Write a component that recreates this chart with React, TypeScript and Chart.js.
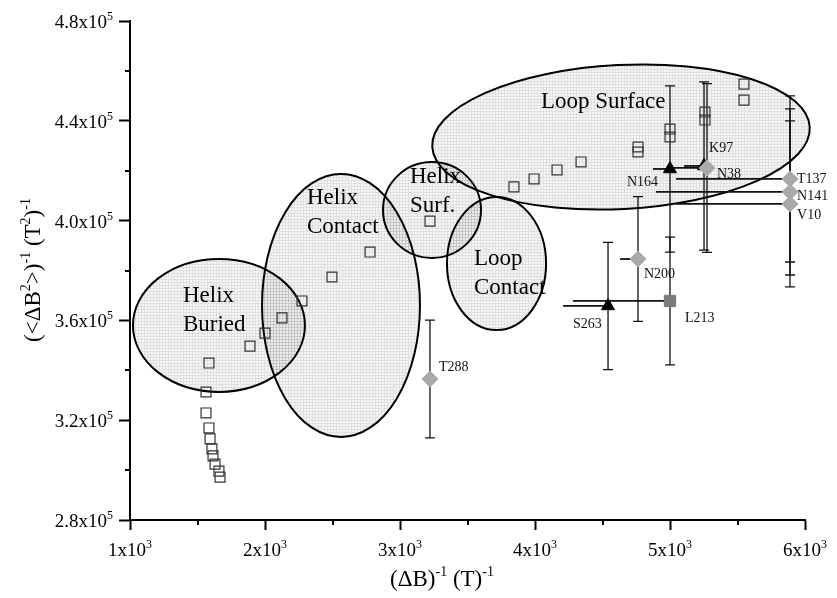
import React, { useEffect, useRef } from "react";
import { Chart, registerables } from "chart.js";

Chart.register(...registerables);

// ---------------- data ----------------
// open squares (all residues)
const squareX = [5548, 5548, 5259, 5259, 5000, 5000, 4763, 4763, 4341, 4163, 3993, 3844, 3222, 2778, 2496, 2274, 2126, 2000, 1889, 1585, 1563, 1563, 1585, 1593, 1607, 1615, 1630, 1659, 1667];
const squareY = [454700, 448300, 443500, 440300, 436700, 433500, 429500, 427500, 423500, 420300, 416700, 413500, 399800, 387400, 377400, 367800, 361000, 354900, 349700, 342900, 331300, 322900, 316900, 312500, 308500, 305700, 302400, 299600, 297200];

// gray diamonds
const diamondLabels = ["T288", "N200", "N38", "T137", "N141", "V10"];
const diamondX = [3222, 4763, 5274, 5889, 5889, 5889];
const diamondY = [336500, 384600, 421100, 416700, 411500, 406700];
const diamondYErr = [23600, 25000, 33800, 33300, 33300, 33300];
const diamondXErrLeft = [0, 133, 274, 844, 993, 844];

// black triangles
const triangleLabels = ["S263", "N164", "K97"];
const triangleX = [4541, 5000, 5252];
const triangleY = [365800, 420700, 421900];
const triangleYErr = [25500, 33300, 33700];
const triangleXErrLeft = [333, 126, 148];

// dark gray filled square
const filledLabels = ["L213"];
const filledX = [5000];
const filledY = [367800];
const filledYErr = [25600];
const filledXErrLeft = [719];

// regions (ellipses)
const regionNames = [["Helix", "Buried"], ["Helix", "Contact"], ["Helix", "Surf."], ["Loop", "Contact"], ["Loop Surface"]];
const regionCX = [1659, 2563, 3237, 3715, 4637];
const regionCY = [358000, 366000, 404250, 382800, 433500];
const regionRX = [637, 585, 363, 367, 1400];
const regionRY = [26650, 52700, 19200, 26650, 28860];

// axis ticks
const xTickValues = [1000, 2000, 3000, 4000, 5000, 6000];
const xTickLabels = ["1x10", "2x10", "3x10", "4x10", "5x10", "6x10"];
const xTickExp = "3";
const xMinorValues = [1500, 2500, 3500, 4500, 5500];
const yTickValues = [280000, 320000, 360000, 400000, 440000, 480000];
const yTickLabels = ["2.8x10", "3.2x10", "3.6x10", "4.0x10", "4.4x10", "4.8x10"];
const yTickExp = "5";
const yMinorValues = [300000, 340000, 380000, 420000, 460000];

// ---------------- layout / style ----------------
const FONT = '"Liberation Serif", "Times New Roman", serif';
const regionTiltDeg = [0, 0, 0, 0, -3];
const regionLabelOffset: [number, number][] = [[-36, -29.5], [-34, -107.5], [-22, -33], [-22.5, -4.5], [-80, -35]];
const labelOffsets: Record<string, [number, number]> = {
  T288: [9, -12], N200: [6, 15], N38: [10, 6], T137: [7, 0], N141: [7, 4], V10: [7, 11],
  S263: [-35, 18], N164: [-43, 13], K97: [5, -18], L213: [15, 17],
};

type Part = [string, boolean];

function drawRich(ctx: CanvasRenderingContext2D, parts: Part[], x: number, y: number, align: string, baseSize: number, supSize: number, raise: number) {
  const baseFont = `${baseSize}px ${FONT}`;
  const supFont = `${supSize}px ${FONT}`;
  let total = 0;
  const widths = parts.map(([t, s]) => {
    ctx.font = s ? supFont : baseFont;
    const w = ctx.measureText(t).width;
    total += w;
    return w;
  });
  let cx = align === "left" ? x : align === "center" ? x - total / 2 : x - total;
  ctx.textAlign = "left";
  ctx.textBaseline = "alphabetic";
  parts.forEach(([t, s], i) => {
    ctx.font = s ? supFont : baseFont;
    ctx.fillText(t, cx, s ? y - raise : y);
    cx += widths[i];
  });
}

function makePattern(): CanvasPattern | string {
  const c = document.createElement("canvas");
  c.width = 3;
  c.height = 3;
  const g = c.getContext("2d");
  if (!g) return "rgba(0,0,0,0.08)";
  g.fillStyle = "rgba(0,0,0,0.035)";
  g.fillRect(0, 0, 3, 3);
  g.fillStyle = "rgba(0,0,0,0.09)";
  g.fillRect(0, 0, 3, 1);
  g.fillRect(0, 1, 1, 2);
  const p = g.createPattern(c, "repeat");
  return p || "rgba(0,0,0,0.08)";
}

export default function App() {
  const ref = useRef<HTMLCanvasElement | null>(null);

  useEffect(() => {
    const canvas = ref.current;
    if (!canvas) return;
    const pattern = makePattern();

    const errorGroups = [
      { x: diamondX, y: diamondY, ye: diamondYErr, xe: diamondXErrLeft, labels: diamondLabels },
      { x: triangleX, y: triangleY, ye: triangleYErr, xe: triangleXErrLeft, labels: triangleLabels },
      { x: filledX, y: filledY, ye: filledYErr, xe: filledXErrLeft, labels: filledLabels },
    ];

    const plugin = {
      id: "decor",
      beforeDatasetsDraw(chart: any) {
        const ctx: CanvasRenderingContext2D = chart.ctx;
        const xs = chart.scales.x;
        const ys = chart.scales.y;
        ctx.save();
        const ells = regionCX.map((cx, i) => {
          const px = xs.getPixelForValue(cx);
          const py = ys.getPixelForValue(regionCY[i]);
          const rx = Math.abs(xs.getPixelForValue(cx + regionRX[i]) - px);
          const ry = Math.abs(ys.getPixelForValue(regionCY[i] + regionRY[i]) - py);
          return { px, py, rx, ry, rot: (regionTiltDeg[i] * Math.PI) / 180 };
        });
        ells.forEach((e) => {
          ctx.beginPath();
          ctx.ellipse(e.px, e.py, e.rx, e.ry, e.rot, 0, Math.PI * 2);
          ctx.fillStyle = pattern as any;
          ctx.fill();
        });
        ells.forEach((e) => {
          ctx.beginPath();
          ctx.ellipse(e.px, e.py, e.rx, e.ry, e.rot, 0, Math.PI * 2);
          ctx.strokeStyle = "#000";
          ctx.lineWidth = 2;
          ctx.stroke();
        });
        // region labels
        ctx.fillStyle = "#000";
        ctx.font = `23px ${FONT}`;
        ctx.textAlign = "left";
        ctx.textBaseline = "middle";
        ells.forEach((e, i) => {
          const [dx, dy] = regionLabelOffset[i];
          regionNames[i].forEach((line, j) => {
            ctx.fillText(line, e.px + dx, e.py + dy + j * 29);
          });
        });
        // error bars
        ctx.strokeStyle = "#111";
        errorGroups.forEach((g) => {
          g.x.forEach((xv, i) => {
            const px = xs.getPixelForValue(xv);
            const py = ys.getPixelForValue(g.y[i]);
            const top = ys.getPixelForValue(g.y[i] + g.ye[i]);
            const bot = ys.getPixelForValue(g.y[i] - g.ye[i]);
            ctx.lineWidth = 1.3;
            ctx.beginPath();
            ctx.moveTo(px, top);
            ctx.lineTo(px, bot);
            ctx.moveTo(px - 5, top);
            ctx.lineTo(px + 5, top);
            ctx.moveTo(px - 5, bot);
            ctx.lineTo(px + 5, bot);
            ctx.stroke();
            if (g.xe[i] > 0) {
              const left = xs.getPixelForValue(xv - g.xe[i]);
              ctx.lineWidth = 1.8;
              ctx.beginPath();
              ctx.moveTo(left, py);
              ctx.lineTo(px, py);
              ctx.stroke();
            }
          });
        });
        ctx.restore();
      },
      afterDraw(chart: any) {
        const ctx: CanvasRenderingContext2D = chart.ctx;
        const xs = chart.scales.x;
        const ys = chart.scales.y;
        const area = chart.chartArea;
        ctx.save();
        ctx.strokeStyle = "#000";
        ctx.lineWidth = 2;
        ctx.beginPath();
        xMinorValues.forEach((v) => {
          const px = Math.round(xs.getPixelForValue(v));
          ctx.moveTo(px, area.bottom);
          ctx.lineTo(px, area.bottom + 5);
        });
        yMinorValues.forEach((v) => {
          const py = Math.round(ys.getPixelForValue(v));
          ctx.moveTo(area.left - 5, py);
          ctx.lineTo(area.left, py);
        });
        ctx.stroke();

        ctx.fillStyle = "#000";
        xTickValues.forEach((v, i) => {
          const px = xs.getPixelForValue(v);
          drawRich(ctx, [[xTickLabels[i], false], [xTickExp, true]], px, 555.5, "center", 19, 12, 8);
        });
        yTickValues.forEach((v, i) => {
          const py = ys.getPixelForValue(v);
          drawRich(ctx, [[yTickLabels[i], false], [yTickExp, true]], 113, py + 7, "right", 19, 12, 8);
        });
        // axis titles
        drawRich(ctx, [["(\u0394B)", false], ["-1", true], [" (T)", false], ["-1", true]], 442, 586, "center", 23, 14, 10);
        ctx.save();
        ctx.translate(0, 270);
        ctx.rotate(-Math.PI / 2);
        drawRich(ctx, [["(<\u0394B", false], ["2", true], [">)", false], ["-1", true], [" (T", false], ["2", true], [")", false], ["-1", true]], 0, 40, "center", 23, 14, 10);
        ctx.restore();

        // point labels
        ctx.font = `14px ${FONT}`;
        ctx.textAlign = "left";
        ctx.textBaseline = "middle";
        ctx.fillStyle = "#111";
        errorGroups.forEach((g) => {
          g.x.forEach((xv, i) => {
            const px = xs.getPixelForValue(xv);
            const py = ys.getPixelForValue(g.y[i]);
            const off = labelOffsets[g.labels[i]] || [6, 0];
            ctx.fillText(g.labels[i], px + off[0], py + off[1]);
          });
        });
        ctx.restore();
      },
    };

    const toPts = (xa: number[], ya: number[]) => xa.map((x, i) => ({ x, y: ya[i] }));

    const chart = new Chart(canvas, {
      type: "scatter",
      data: {
        datasets: [
          {
            label: "diamonds",
            data: toPts(diamondX, diamondY),
            pointStyle: "rectRot",
            pointRadius: 8,
            backgroundColor: "#a9a9a9",
            borderColor: "#a9a9a9",
            borderWidth: 1,
          },
          {
            label: "triangles",
            data: toPts(triangleX, triangleY),
            pointStyle: "triangle",
            pointRadius: 7.5,
            backgroundColor: "#000",
            borderColor: "#000",
            borderWidth: 1,
          },
          {
            label: "filled",
            data: toPts(filledX, filledY),
            pointStyle: "rect",
            pointRadius: 8,
            backgroundColor: "#7a7a7a",
            borderColor: "#7a7a7a",
            borderWidth: 1,
          },
          {
            label: "squares",
            data: toPts(squareX, squareY),
            pointStyle: "rect",
            pointRadius: 7,
            backgroundColor: "rgba(0,0,0,0)",
            borderColor: "#333",
            borderWidth: 1.2,
          },
        ],
      },
      options: {
        animation: false,
        responsive: false,
        maintainAspectRatio: false,
        events: [],
        layout: { padding: { left: 0, top: 21, right: 32, bottom: 0 } },
        plugins: { legend: { display: false }, tooltip: { enabled: false } },
        scales: {
          x: {
            type: "linear",
            min: 1000,
            max: 6000,
            ticks: { display: false, stepSize: 1000 },
            grid: { display: true, drawOnChartArea: false, drawTicks: true, tickLength: 10, tickWidth: 2, tickColor: "#000" },
            border: { display: true, color: "#000", width: 2 },
            afterFit: (s: any) => { s.height = 78; },
          },
          y: {
            type: "linear",
            min: 280000,
            max: 480000,
            ticks: { display: false, stepSize: 40000 },
            grid: { display: true, drawOnChartArea: false, drawTicks: true, tickLength: 11, tickWidth: 2, tickColor: "#000" },
            border: { display: true, color: "#000", width: 2 },
            afterFit: (s: any) => { s.width = 130; },
          },
        },
      } as any,
      plugins: [plugin as any],
    });
    return () => chart.destroy();
  }, []);

  return (
    <div style={{ position: "fixed", left: 0, top: 0, width: 837, height: 598, background: "#fff" }}>
      <canvas ref={ref} width={837} height={598} style={{ width: 837, height: 598, display: "block" }} />
    </div>
  );
}
